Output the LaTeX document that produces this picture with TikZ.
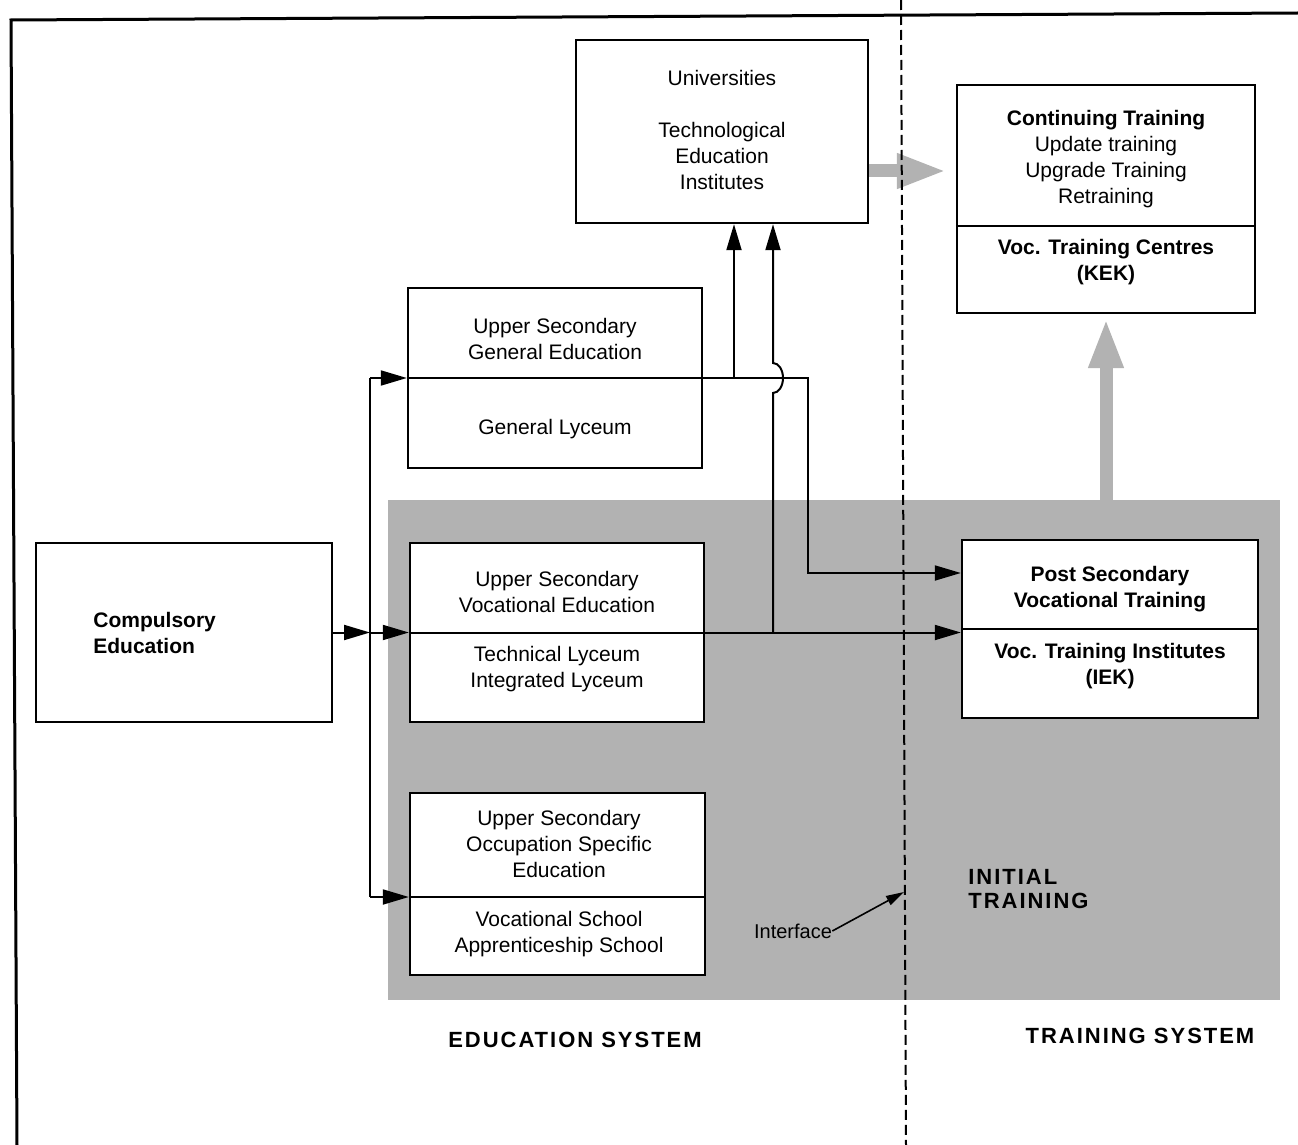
\documentclass[tikz,border=0pt]{standalone}
\usepackage{fontspec}
\setmainfont{Liberation Sans}
\newfontfamily\spacedfont[LetterSpace=9]{Liberation Sans}
\usetikzlibrary{arrows.meta}

\begin{document}
\begin{tikzpicture}[x=0.5pt,y=-0.5pt,
  box/.style={draw, line width=1.2pt, fill=white, inner sep=0pt},
  txt/.style={align=center, inner sep=0pt, font=\fontsize{10.5}{13}\selectfont},
  btxt/.style={align=center, inner sep=0pt, font=\fontsize{10.5}{13}\selectfont\bfseries},
  conn/.style={line width=1pt, -{Triangle[length=13pt,width=7.5pt]}},
  plain/.style={line width=1pt},
  divider/.style={line width=1pt},
  shade/.style={fill=black!30, draw=none, inner sep=0pt},
  fat/.style={draw=black!30, line width=6.5pt, -{Triangle[length=25pt,width=16pt]}},
  syslabel/.style={inner sep=0pt, align=left, font=\spacedfont\fontsize{11}{12}\selectfont\bfseries},
  border/.style={line width=1.5pt},
  split/.style={line width=1pt, dash pattern=on 5pt off 2.5pt}
]
\useasboundingbox (0,0) rectangle (1298,1145);

% outer frame
\draw[border] (17,1145) -- (11,20) -- (1298,13);

% shaded initial training area
\node[shade, minimum width=446pt, minimum height=250pt] (init) at (834,750) {};

% boxes
\node[box, minimum width=146pt, minimum height=91.5pt] (uni)  at (722,131.5) {};
\node[box, minimum width=149pt, minimum height=114pt]  (cont) at (1106,199) {};
\node[box, minimum width=147pt, minimum height=90pt]   (gen)  at (555,378) {};
\node[box, minimum width=148pt, minimum height=89.5pt] (comp) at (184,632.5) {};
\node[box, minimum width=147pt, minimum height=89.5pt] (voc)  at (557,632.5) {};
\node[box, minimum width=147.5pt, minimum height=91pt] (occ)  at (557.5,884) {};
\node[box, minimum width=148pt, minimum height=89pt]   (post) at (1110,629) {};

% box texts
\node[txt] (tuni) at (722,129.5) {Universities\\[13pt]Technological\\Education\\Institutes};
\node[txt] (tconta) at (1106,159.5) {\textbf{Continuing Training}\\Update training\\Upgrade Training\\Retraining};
\node[btxt] (tcontb) at (1106,262) {Voc. Training Centres\\(KEK)};
\node[txt] (tgena) at (555,339) {Upper Secondary\\General Education};
\node[txt] (tgenb) at (555,429) {General Lyceum};
\node[btxt, anchor=west, align=left] (tcomp) at (93,633) {Compulsory\\Education};
\node[txt] (tvoca) at (557,592) {Upper Secondary\\Vocational Education};
\node[txt] (tvocb) at (557,669.5) {Technical Lyceum\\Integrated Lyceum};
\node[txt] (tocca) at (559,844) {Upper Secondary\\Occupation Specific\\Education};
\node[txt] (toccb) at (559,934) {Vocational School\\Apprenticeship School};
\node[btxt] (tposta) at (1110,589) {Post Secondary\\Vocational Training};
\node[btxt] (tpostb) at (1110,666) {Voc. Training Institutes\\(IEK)};

% dividers inside boxes
\draw[divider] ([yshift=-13.5pt]cont.west) -- ([yshift=-13.5pt]cont.east);
\draw[divider] (post.west) -- (post.east);
\draw[divider] (gen.west) -- (gen.east);
\draw[divider] (voc.west) -- (voc.east);
\coordinate (jtop) at (370,378);
\coordinate (jmid) at (370,632.5);
\coordinate (jbot) at (370,897);
\draw[divider] (jbot -| occ.west) -- (jbot -| occ.east);

% pathways
\draw[plain] (jtop) -- (jbot);
\draw[conn] (comp.east) -- (jmid);
\draw[conn] (jmid) -- (voc.west);
\draw[conn] (jtop) -- (gen.west);
\draw[conn] (jbot) -- (jbot -| occ.west);
\draw[conn] (voc.east) -- (voc.east -| post.west);
\coordinate (bendA) at (808,378);
\coordinate (bendB) at (808,573);
\draw[conn] (gen.east) -- (bendA) -- (bendB) -- (bendB -| post.west);
\coordinate (upA) at (734,378);
\draw[conn] (upA) -- (upA |- uni.south);
\coordinate (upB) at (773,632.5);
\coordinate (hopB) at (773,393);
\draw[conn] (upB) -- (hopB) arc[start angle=-90, end angle=90, x radius=5pt, y radius=7.5pt] -- (upB |- uni.south);

% links into continuing training
\draw[fat, shorten >=4.5pt] ([yshift=-19.75pt]uni.east) -- ([yshift=14pt]cont.west);
\draw[fat, shorten >=2pt] (init.north -| cont.south) -- (cont.south);

% education / training split
\draw[split] (901,0) -- (906,1145);

% interface pointer
\node[inner sep=0pt, font=\fontsize{10}{12}\selectfont] (iface) at (793,931) {Interface};
\coordinate (ifacetip) at (904,892);
\draw[line width=0.8pt, -{Triangle[length=9pt,width=5pt]}] (iface.east) -- (ifacetip);

% system labels
\node[syslabel, anchor=west] (initlab) at (968,889) {INITIAL\\TRAINING};
\node[syslabel] (edusys) at (575,1040) {EDUCATION SYSTEM};
\node[syslabel] (trainsys) at (1140,1036) {TRAINING SYSTEM};
\end{tikzpicture}
\end{document}
